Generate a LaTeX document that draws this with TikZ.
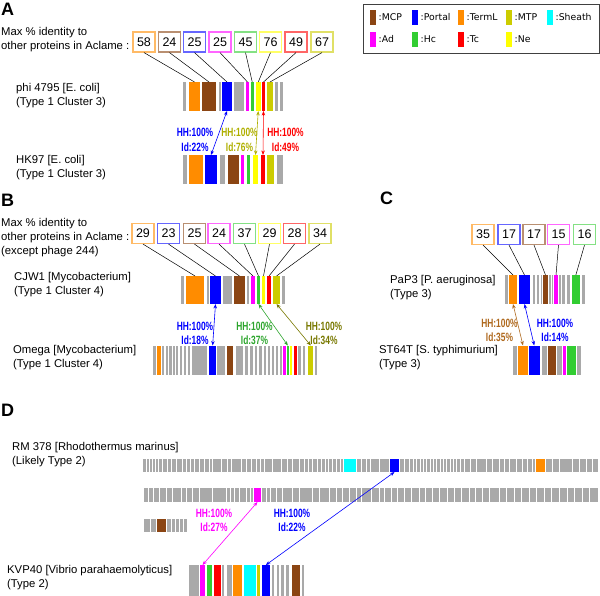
\documentclass[tikz,border=0pt]{standalone}
\usepackage{fontspec}
\setmainfont{Liberation Sans}
\newfontfamily\hhfont[FakeStretch = 0.7]{Liberation Sans}
\newfontfamily\legfont{DejaVu Sans}
\usetikzlibrary{arrows.meta}

\definecolor{mcp}{RGB}{139,69,19}
\definecolor{portal}{RGB}{0,0,255}
\definecolor{terml}{RGB}{255,140,0}
\definecolor{mtp}{RGB}{204,204,0}
\definecolor{sheath}{RGB}{0,255,255}
\definecolor{ad}{RGB}{255,0,255}
\definecolor{hc}{RGB}{50,205,50}
\definecolor{tc}{RGB}{255,0,0}
\definecolor{ne}{RGB}{255,255,0}
\definecolor{grey}{RGB}{169,169,169}
\definecolor{mtpdark}{RGB}{175,175,0}
\definecolor{olivedark}{RGB}{120,120,0}
\definecolor{hcdark}{RGB}{45,165,45}
\definecolor{termdark}{RGB}{175,105,30}

\tikzset{
	gene/.style = {rectangle, inner sep = 0pt, outer sep = 0pt, draw = none},
	idbox/.style = {rectangle, draw = #1!60!white, line width = 1.2pt, fill = white, minimum width = 22pt, minimum height = 20pt, inner sep = 0pt, font = \fontsize{12.5}{14}\selectfont},
	link/.style = {black, line width = 0.5pt},
	hh/.style = {draw = #1, line width = 0.6pt, >={Stealth[length = 4.5pt, width = 3.5pt]}, <->},
	hhlabel/.style = {text = #1, align = center, inner sep = 0pt, font = \hhfont\bfseries\fontsize{12}{14.5}\selectfont},
	orgname/.style = {anchor = west, align = left, inner sep = 0pt, font = \fontsize{11.3}{14}\selectfont},
	panel/.style = {anchor = west, inner sep = 0pt, font = \bfseries\fontsize{18}{18}\selectfont},
	legtext/.style = {anchor = west, inner sep = 0pt, font = \legfont\fontsize{9.3}{10}\selectfont}
}

\newcommand{\setrow}[2]{\def\rowtop{#1}\def\rowbot{#2}}
\newcommand{\gene}[4]{\node[gene, fill = #4, minimum width = {(#3 - #2)*1pt}, minimum height = {(\rowbot - \rowtop)*1pt}] (#1) at ({(#2 + #3)/2}, {(\rowtop + \rowbot)/2}) {};}
\newcommand{\greys}[1]{\foreach \ga/\gb in {#1} \fill[grey] (\ga, \rowtop) rectangle (\gb, \rowbot);}
\newcommand{\seps}[1]{\foreach \s in {#1} \draw[white, line width = 1pt] (\s, \rowtop) -- (\s, \rowbot);}

\begin{document}
\begin{tikzpicture}[x = 1pt, y = -1pt]
	\useasboundingbox (0, 0) rectangle (600, 596);

	% legend
	\draw[line width = 0.8pt, black!75] (363, 4) rectangle (599, 53);
	\foreach \x/\y/\c/\t in {370/17.5/mcp/MCP, 412/17.5/portal/Portal, 458/17.5/terml/TermL, 506/17.5/mtp/MTP, 547/17.5/sheath/Sheath, 370/39.5/ad/Ad, 412/39.5/hc/Hc, 458/39.5/tc/Tc, 506/39.5/ne/Ne}
	{
		\fill[\c] (\x, \y - 7.5) rectangle (\x + 6, \y + 7.5);
		\node[legtext] (leg\t) at (\x + 8.5, \y) {:\t};
	}

	% A
	\node[panel] (labA) at (1, 9) {A};
	\node[orgname] (headA) at (1, 39.5) {Max \% identity to\\other proteins in Aclame :};
	\node[orgname] (phiName) at (16, 96) {phi 4795 [E. coli]\\(Type 1 Cluster 3)};
	\node[orgname] (hkName) at (16, 168) {HK97 [E. coli]\\(Type 1 Cluster 3)};

	\setrow{82}{111}
	\greys{183/186, 219/221, 234/244, 275/278, 280/283}
	\gene{phiTerm}{189}{200}{terml}
	\gene{phiMCP}{202}{216}{mcp}
	\gene{phiPortal}{222}{232}{portal}
	\gene{phiAd}{246}{249}{ad}
	\gene{phiHc}{250.5}{254}{hc}
	\gene{phiNe}{256}{260.5}{ne}
	\gene{phiTc}{262}{265}{tc}
	\gene{phiMTP}{267}{273}{mtp}

	\setrow{155}{184}
	\greys{183/187, 220/225, 277/283}
	\gene{hkTerm}{189}{203}{terml}
	\gene{hkPortal}{205}{217}{portal}
	\gene{hkMCP}{228}{239}{mcp}
	\gene{hkAd}{241}{244}{ad}
	\gene{hkHc}{247}{250}{hc}
	\gene{hkNe}{253}{258}{ne}
	\gene{hkTc}{261}{265}{tc}
	\gene{hkMTP}{267}{274}{mtp}

	\foreach \x/\c/\v/\n in {144/terml/58/Term, 169.5/mcp/24/MCP, 194.5/portal/25/Portal, 220/ad/25/Ad, 245.5/hc/45/Hc, 270.5/ne/76/Ne, 296/tc/49/Tc, 322/mtp/67/MTP}
	{
		\node[idbox = \c] (boxA\n) at (\x, 42) {\v};
		\draw[link] (boxA\n.south) -- (phi\n.north);
	}

	\draw[hh = portal] (phiPortal.south) -- (hkPortal.north);
	\draw[hh = mtpdark] (phiNe.south) -- (hkNe.north);
	\draw[hh = tc] (phiTc.south) -- (hkTc.north);
	\node[hhlabel = portal] (idA1) at (195, 140) {HH:100\%\\Id:22\%};
	\node[hhlabel = mtpdark] (idA2) at (239.5, 140) {HH:100\%\\Id:76\%};
	\node[hhlabel = tc] (idA3) at (285.5, 140) {HH:100\%\\Id:49\%};

	% B
	\node[panel] (labB) at (1, 200.5) {B};
	\node[orgname] (headB) at (1, 238) {Max \% identity to\\other proteins in Aclame :\\(except phage 244)};
	\node[orgname] (cjName) at (14, 285) {CJW1 [Mycobacterium]\\(Type 1 Cluster 4)};
	\node[orgname] (omName) at (13, 358) {Omega [Mycobacterium]\\(Type 1 Cluster 4)};

	\setrow{276}{304}
	\greys{181/184, 206.5/208.5, 223/232, 247/249, 282/284.5}
	\gene{cjTerm}{186}{204}{terml}
	\gene{cjPortal}{210}{221}{portal}
	\gene{cjMCP}{234}{245}{mcp}
	\gene{cjAd}{251}{255}{ad}
	\gene{cjHc}{257}{260}{hc}
	\gene{cjNe}{262}{265}{ne}
	\gene{cjTc}{267}{271}{tc}
	\gene{cjMTP}{273}{280}{mtp}

	\setrow{345.5}{374.5}
	\greys{153.3/156, 161.7/164, 165.7/168, 169.3/171.7, 173.3/175, 176.3/178.3, 180/182, 184/186, 187.7/190, 191.7/206.7, 217.3/225, 236/243.3, 245/248.3, 250/253.3, 255/257.3, 259.3/261.7, 264/266, 267.7/270, 271.7/274, 276/278.3, 280/281.7, 298.3/300.7, 302.7/305, 315/316.7}
	\gene{omTerm}{157.3}{160.7}{terml}
	\gene{omPortal}{209.3}{216}{portal}
	\gene{omMCP}{227.3}{233.3}{mcp}
	\gene{omAd}{282.7}{285.7}{ad}
	\gene{omHc}{286.7}{289}{hc}
	\gene{omNe}{290}{292.3}{ne}
	\gene{omTc}{294}{296.7}{tc}
	\gene{omMTP}{308.3}{313.3}{mtp}

	\foreach \x/\c/\v/\n in {143/terml/29/Term, 168.5/portal/23/Portal, 194.5/mcp/25/MCP, 219/ad/24/Ad, 244.5/hc/37/Hc, 269.5/ne/29/Ne, 294.5/tc/28/Tc, 320/mtp/34/MTP}
	{
		\node[idbox = \c] (boxB\n) at (\x, 233.5) {\v};
		\draw[link] (boxB\n.south) -- (cj\n.north);
	}

	\draw[hh = portal] (cjPortal.south) -- (omPortal.north);
	\draw[hh = hcdark] (cjHc.south) -- (omHc.north);
	\draw[hh = olivedark] (cjMTP.south) -- (omMTP.north);
	\node[hhlabel = portal] (idB1) at (195, 333.5) {HH:100\%\\Id:18\%};
	\node[hhlabel = hcdark] (idB2) at (254.5, 333.5) {HH:100\%\\Id:37\%};
	\node[hhlabel = olivedark] (idB3) at (324, 333.5) {HH:100\%\\Id:34\%};

	% C
	\node[panel] (labC) at (380, 198.5) {C};
	\node[orgname] (ppName) at (390, 287.5) {PaP3 [P. aeruginosa]\\(Type 3)};
	\node[orgname] (stName) at (379, 358) {ST64T [S. typhimurium]\\(Type 3)};

	\setrow{275}{304}
	\greys{505/508, 532.7/535, 536.7/539.3, 540.5/542, 549/550.7, 551.8/553, 558.7/561, 562.3/565, 566.7/570, 581.7/585}
	\gene{ppTerm}{509}{517}{terml}
	\gene{ppPortal}{519}{530}{portal}
	\gene{ppMCP}{543.3}{547.7}{mcp}
	\gene{ppAd}{554.3}{557.7}{ad}
	\gene{ppHc}{571.7}{580}{hc}

	\setrow{345.5}{374.5}
	\greys{513.3/517.3, 541.7/546.7, 557.3/561.7, 577.3/580.7}
	\gene{stTerm}{518.3}{527.7}{terml}
	\gene{stPortal}{528.5}{540}{portal}
	\gene{stMCP}{548.3}{556}{mcp}
	\gene{stAd}{563.3}{565.7}{ad}
	\gene{stHc}{567.3}{576}{hc}

	\foreach \x/\c/\v/\n in {483/terml/35/Term, 509/portal/17/Portal, 534/mcp/17/MCP, 558.5/ad/15/Ad, 584.5/hc/16/Hc}
	{
		\node[idbox = \c] (boxC\n) at (\x, 234.5) {\v};
		\draw[link] (boxC\n.south) -- (pp\n.north);
	}

	\draw[hh = termdark] (ppTerm.south) -- (stTerm.north);
	\draw[hh = portal] (ppPortal.south) -- (stPortal.north);
	\node[hhlabel = termdark] (idC1) at (499.5, 330.5) {HH:100\%\\Id:35\%};
	\node[hhlabel = portal] (idC2) at (555, 330.5) {HH:100\%\\Id:14\%};

	% D
	\node[panel] (labD) at (1, 410) {D};
	\node[orgname] (rmName) at (12, 455) {RM 378 [Rhodothermus marinus]\\(Likely Type 2)};
	\node[orgname] (kvName) at (7, 577.5) {KVP40 [Vibrio parahaemolyticus]\\(Type 2)};

	\setrow{459}{472}
	\fill[grey] (143, \rowtop) rectangle (598, \rowbot);
	\seps{146.3, 149.3, 152.3, 155.3, 158.3, 162.5, 167, 171, 176.5, 182, 186.5, 190, 194.5, 199.5, 204.5, 209, 212.5, 221.5, 227.5, 231.5, 241.5, 246.5, 251.5, 256.5, 260, 264.5, 272.5, 281.5, 287.5, 292.5, 299.5, 304.5, 308, 312.5, 317.5, 321.5, 325, 328, 332, 336.5, 340, 343.3, 356.7, 361.5, 366.5, 370, 379.5, 389.3, 399.7, 404.5, 409.5, 413, 416.5, 420, 423, 426.5, 430, 433, 436.5, 440, 443, 446.5, 450, 453, 456.5, 460, 464.5, 470, 476.5, 486.5, 492.5, 499.5, 504.5, 509.5, 516.5, 522.5, 527.5, 532.5, 535.3, 545.7, 552.5, 559.5, 572.5, 579.5, 586.5, 592.5}
	\gene{rmSheath}{344}{356}{sheath}
	\gene{rmPortal}{390}{399}{portal}
	\gene{rmTerm}{536}{545}{terml}

	\setrow{488}{502}
	\fill[grey] (144, \rowtop) rectangle (598, \rowbot);
	\seps{148, 153, 159.5, 166.5, 172.5, 181.5, 186.5, 192.5, 199.5, 212.5, 226.5, 230.5, 234.5, 239.5, 246.5, 250.5, 253.3, 261.7, 266.5, 270, 276.5, 282.5, 292.5, 299.5, 312.5, 319.5, 329.5, 336.5, 342.5, 349.5, 356.5, 361.5, 371.5, 379.5, 384.5, 391.5, 397.5, 404.5, 411.5, 419.5, 425.5, 432.5, 439.5, 447.5, 454.5, 461.5, 469.5, 475.5, 482.5, 489.5, 499.5, 506.5, 514.5, 521.5, 529.5, 536.5, 544.5, 551.5, 559.5, 567.5, 574.5, 582.5, 589.5}
	\gene{rmAd}{254}{261}{ad}

	\setrow{519}{532}
	\fill[grey] (144, \rowtop) rectangle (187, \rowbot);
	\seps{150.5, 156.5, 166.5, 171.7, 175.8, 179.5, 183.2}
	\gene{rmMCP}{157.3}{165.7}{mcp}

	\setrow{565}{596}
	\greys{189/199, 222.3/224.3, 226.7/231.7, 271.7/274.3, 276.7/279.3, 281/284, 286/289.3, 301.7/304}
	\gene{kvAd}{200}{205}{ad}
	\gene{kvHc}{206.7}{211.7}{hc}
	\gene{kvTc}{213.7}{220.7}{tc}
	\gene{kvTerm}{232.7}{242.3}{terml}
	\gene{kvSheath}{244.3}{255.7}{sheath}
	\gene{kvMTP}{256.7}{260}{mtp}
	\gene{kvPortal}{261.7}{270}{portal}
	\gene{kvMCP}{291.7}{300}{mcp}

	\draw[hh = ad] (rmAd.south) -- (kvAd.north);
	\draw[hh = portal] (rmPortal.south) -- (kvPortal.north);
	\node[hhlabel = ad] (idD1) at (214, 520.5) {HH:100\%\\Id:27\%};
	\node[hhlabel = portal] (idD2) at (292, 520.5) {HH:100\%\\Id:22\%};
\end{tikzpicture}
\end{document}
